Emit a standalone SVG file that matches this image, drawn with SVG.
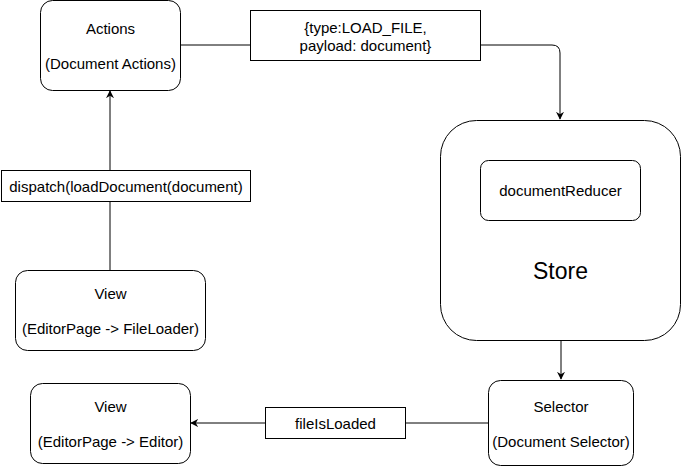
<svg xmlns="http://www.w3.org/2000/svg" width="681" height="466" viewBox="0 0 681 466">
<style>
.n{fill:#fff;stroke:#000;stroke-width:1}
.t{font-family:"Liberation Sans",Arial,sans-serif;font-size:15px;fill:#000;text-anchor:middle;dominant-baseline:central}
.c{fill:none;stroke:#000;stroke-width:1}
</style>
<defs>
<marker id="a" viewBox="0 0 10 10" refX="9" refY="5" markerWidth="8" markerHeight="8" orient="auto" markerUnits="userSpaceOnUse">
<path d="M0,0 L10,5 L0,10 L3,5 Z" fill="#000"/>
</marker>
</defs>
<rect width="681" height="466" fill="#fff"/>
<g id="connectors">
<path class="c" d="M181,45 H250"/>
<path class="c" d="M480,45 H552 Q560,45 560,53 V119" marker-end="url(#a)"/>
<path class="c" d="M110,270 V91" marker-end="url(#a)"/>
<path class="c" d="M561,340 V379" marker-end="url(#a)"/>
<path class="c" d="M488,423 H405 M265,423 H191" marker-end="url(#a)"/>
</g>
<g id="actions">
<rect class="n" x="40.5" y="0.5" width="140" height="90" rx="12"/>
<text class="t" x="110.5" y="28">Actions</text>
<text class="t" x="110.5" y="63">(Document Actions)</text>
</g>
<g id="label-load-file">
<rect class="n" x="250.5" y="10.5" width="230" height="50"/>
<text class="t" x="365.5" y="27">{type:LOAD_FILE,</text>
<text class="t" x="365.5" y="45">payload: document}</text>
</g>
<g id="label-dispatch">
<rect class="n" x="1.5" y="170.5" width="249" height="31"/>
<text class="t" x="126" y="186">dispatch(loadDocument(document)</text>
</g>
<g id="store">
<rect class="n" x="440.5" y="120.5" width="240" height="220" rx="36"/>
<text class="t" x="560.5" y="271" style="font-size:23px">Store</text>
</g>
<g id="documentReducer">
<rect class="n" x="480.5" y="160.5" width="160" height="60" rx="8"/>
<text class="t" x="560.5" y="190">documentReducer</text>
</g>
<g id="view-fileloader">
<rect class="n" x="15.5" y="270.5" width="190" height="80" rx="12"/>
<text class="t" x="110.5" y="293">View</text>
<text class="t" x="110.5" y="328">(EditorPage -&gt; FileLoader)</text>
</g>
<g id="view-editor">
<rect class="n" x="30.5" y="383.5" width="160" height="80" rx="12"/>
<text class="t" x="110.5" y="406">View</text>
<text class="t" x="110.5" y="441">(EditorPage -&gt; Editor)</text>
</g>
<g id="label-fileIsLoaded">
<rect class="n" x="265.5" y="407.5" width="140" height="31"/>
<text class="t" x="335.5" y="423">fileIsLoaded</text>
</g>
<g id="selector">
<rect class="n" x="488.5" y="380.5" width="145" height="85" rx="12"/>
<text class="t" x="561" y="406">Selector</text>
<text class="t" x="561" y="441">(Document Selector)</text>
</g>
</svg>
